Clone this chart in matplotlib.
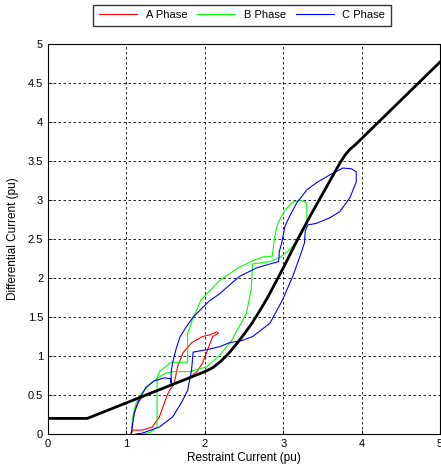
import matplotlib
matplotlib.use('Agg')
import matplotlib.pyplot as plt
from matplotlib.ticker import FuncFormatter

plt.rcParams['font.family'] = ['Liberation Sans', 'DejaVu Sans']

# bias characteristic (black)
char_x = [0, 0.5, 2.0, 2.1, 2.2, 2.3, 2.4, 2.5, 2.6, 2.7, 2.8, 2.9, 3.0, 3.17, 3.34,
          3.53, 3.72, 3.79, 3.85, 3.92, 5.0]
char_y = [0.2, 0.2, 0.8, 0.85, 0.93, 1.03, 1.15, 1.28, 1.42, 1.58, 1.75, 1.94, 2.13, 2.47, 2.79,
          3.13, 3.47, 3.58, 3.65, 3.71, 4.77]

# A phase trajectory
a_x = [1.06, 1.08, 1.12, 1.2, 1.3, 1.42, 1.55, 1.68, 1.8, 1.9, 1.97, 2.02, 2.08, 2.1, 2.17,
       2.15, 2.06, 1.97, 1.83, 1.72, 1.65, 1.61, 1.55, 1.52, 1.48, 1.42, 1.33, 1.2, 1.08, 1.06]
a_y = [0.0, 0.18, 0.35, 0.48, 0.53, 0.57, 0.62, 0.67, 0.72, 0.8, 0.91, 1.04, 1.2, 1.25, 1.29,
       1.31, 1.27, 1.25, 1.17, 1.04, 0.86, 0.65, 0.56, 0.5, 0.39, 0.22, 0.09, 0.05, 0.05, 0.0]

# B phase trajectory
b_x = [1.06, 1.08, 1.12, 1.19, 1.29, 1.4, 1.5, 1.6, 1.8, 2.02, 2.19, 2.34, 2.45, 2.53, 2.59,
       2.61, 2.83, 2.95, 3.08, 3.21, 3.3, 3.3, 3.29, 3.21, 3.12, 3.02, 2.93, 2.89, 2.88, 2.86,
       2.74, 2.61, 2.44, 2.19, 1.95, 1.84, 1.78, 1.78, 1.57, 1.42, 1.39, 1.39, 1.3, 1.22]
b_y = [0.0, 0.22, 0.39, 0.52, 0.63, 0.72, 0.78, 0.8, 0.8, 0.86, 1.01, 1.2, 1.4, 1.55, 1.85,
       2.18, 2.21, 2.26, 2.36, 2.53, 2.7, 2.9, 2.97, 3.0, 2.97, 2.87, 2.7, 2.53, 2.45, 2.28,
       2.27, 2.22, 2.14, 1.97, 1.72, 1.46, 1.29, 0.92, 0.92, 0.8, 0.72, 0.09, 0.02, 0.0]

# C phase trajectory
c_x = [1.06, 1.1, 1.16, 1.25, 1.35, 1.48, 1.56, 1.57, 1.57, 1.59, 1.63, 1.68, 1.76, 1.85,
       1.93, 2.05, 2.19, 2.44, 2.66, 2.83, 2.94, 2.95, 2.98, 3.02, 3.08, 3.17, 3.3, 3.42,
       3.59, 3.76, 3.87, 3.93, 3.93, 3.85, 3.72, 3.59, 3.42, 3.31, 3.28, 3.27, 3.21, 3.12,
       2.99, 2.83, 2.61, 2.48, 2.31, 2.19, 2.02, 1.85, 1.83, 1.78, 1.7, 1.59, 1.42, 1.2, 1.12]
c_y = [0.0, 0.27, 0.44, 0.6, 0.68, 0.72, 0.71, 0.65, 0.8, 0.92, 1.08, 1.24, 1.37, 1.5,
       1.58, 1.7, 1.8, 2.02, 2.13, 2.18, 2.21, 2.34, 2.45, 2.66, 2.79, 2.96, 3.13, 3.22,
       3.32, 3.41, 3.4, 3.36, 3.23, 3.03, 2.85, 2.77, 2.7, 2.68, 2.6, 2.45, 2.27, 2.02,
       1.72, 1.42, 1.25, 1.2, 1.17, 1.12, 1.08, 1.05, 0.82, 0.56, 0.4, 0.22, 0.09, 0.01, 0.0]

x_ticks = [0, 1, 2, 3, 4, 5]
y_ticks = [0, 0.5, 1, 1.5, 2, 2.5, 3, 3.5, 4, 4.5, 5]

fig = plt.figure(figsize=(4.41, 4.69), dpi=100)
ax = fig.add_axes([0.109, 0.0746, 0.889, 0.8316])

ax.plot(a_x, a_y, color='#ff0000', lw=0.8, label='A Phase')
ax.plot(b_x, b_y, color='#00ff00', lw=0.8, label='B Phase')
ax.plot(c_x, c_y, color='#0000ff', lw=0.8, label='C Phase')
ax.plot(char_x, char_y, color='black', lw=2.0, solid_joinstyle='round')

ax.set_xlim(0, 5)
ax.set_ylim(0, 5)
ax.set_xticks(x_ticks)
ax.set_yticks(y_ticks)
ax.yaxis.set_major_formatter(FuncFormatter(lambda v, p: f'{v:g}'))
ax.tick_params(direction='in', length=3, width=0.6, labelsize=8, colors='black')
ax.grid(True, color='black', linestyle=(0, (3, 3)), linewidth=0.6)
for s in ax.spines.values():
    s.set_linewidth(0.8)

ax.set_xlabel('Restraint Current (pu)', fontsize=8.5, labelpad=2)
ax.set_ylabel('Differential Current (pu)', fontsize=8.5, labelpad=6)

fig.legend(loc='upper center', bbox_to_anchor=(0.549, 0.99), ncol=3, fontsize=8,
           frameon=True, fancybox=False, edgecolor='black', handlelength=3.4,
           borderpad=0.5, columnspacing=0.9, handletextpad=0.8, borderaxespad=0)

fig.savefig('out.png', dpi=100)
